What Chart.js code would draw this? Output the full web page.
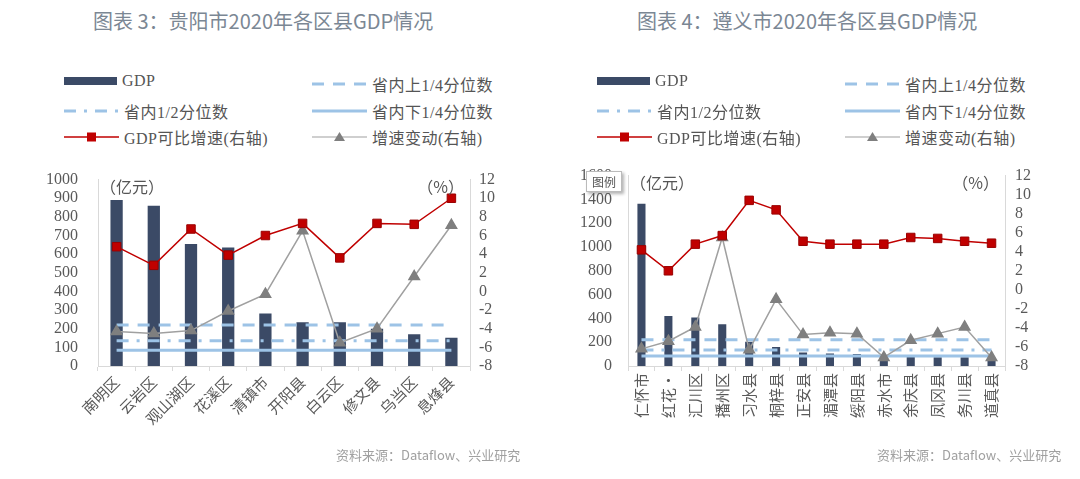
<!DOCTYPE html>
<html>
<head>
<meta charset="utf-8">
<script src="https://cdn.jsdelivr.net/npm/chart.js@4.4.1/dist/chart.umd.min.js"></script>
<style>
  body { margin: 0; background: #fff; width: 1080px; height: 479px; position: relative; overflow: hidden;
         font-family: "Liberation Serif", "Noto Sans CJK SC", serif; }
  .title { position: absolute; top: 6px; font-family: "Noto Sans CJK SC", sans-serif; font-size: 20px;
           color: #7b8794; white-space: nowrap; }
  .src { position: absolute; top: 445px; font-family: "Noto Sans CJK SC", sans-serif; font-size: 13px;
         color: #a0a0a0; white-space: nowrap; }
  canvas { position: absolute; top: 150px; }
  .leg { position: absolute; display: flex; align-items: center; font-size: 16px; color: #555;
         white-space: nowrap; letter-spacing: 0.5px; }
  .leg svg { margin-right: 5px; }
  .tip { position: absolute; left: 586px; top: 171px; width: 34px; height: 19px; background: #fff;
         border: 1px solid #bbb; box-shadow: 2px 2px 3px rgba(0,0,0,0.3); font-family: "Noto Sans CJK SC", sans-serif;
         font-size: 12px; color: #555; text-align: center; line-height: 19px; }
</style>
</head>
<body>
<div class="title" style="left:93px">图表 3：贵阳市2020年各区县GDP情况</div>
<div class="title" style="left:637px">图表 4：遵义市2020年各区县GDP情况</div>
<canvas id="c1" width="540" height="300" style="left:0"></canvas>
<canvas id="c2" width="540" height="300" style="left:540px"></canvas>
<div class="tip">图例</div>
<div class="src" style="left:336px">资料来源：Dataflow、兴业研究</div>
<div class="src" style="left:877px">资料来源：Dataflow、兴业研究</div>
<script>
// 贵阳市
const gyCities = ['南明区', '云岩区', '观山湖区', '花溪区', '清镇市', '开阳县', '白云区', '修文县', '乌当区', '息烽县'];
const gyGdp = [890, 860, 655, 636, 281, 235, 235, 200, 170, 151];
const gyGrowth = [4.8, 2.8, 6.7, 3.9, 6.0, 7.3, 3.6, 7.3, 7.2, 10.0];
const gyChange = [-4.3, -4.5, -4.2, -2.1, -0.3, 6.5, -5.5, -4.0, 1.6, 7.1];
const gyUpperQ = [220, 220, 220, 220, 220, 220, 220, 220, 220, 220];
const gyMedian = [135, 135, 135, 135, 135, 135, 135, 135, 135, 135];
const gyLowerQ = [84, 84, 84, 84, 84, 84, 84, 84, 84, 84];

// 遵义市
const zyCities = ['仁怀市', '红花·', '汇川区', '播州区', '习水县', '桐梓县', '正安县', '湄潭县', '绥阳县', '赤水市', '余庆县', '凤冈县', '务川县', '道真县'];
const zyGdp = [1364, 421, 407, 350, 204, 160, 114, 106, 100, 73, 80, 73, 73, 52];
const zyGrowth = [4.2, 2.0, 4.8, 5.7, 9.4, 8.4, 5.1, 4.8, 4.8, 4.8, 5.5, 5.4, 5.1, 4.9];
const zyChange = [-6.2, -5.4, -3.9, 5.5, -6.3, -1.0, -4.7, -4.5, -4.6, -7.1, -5.3, -4.6, -3.9, -7.1];
const zyUpperQ = [220, 220, 220, 220, 220, 220, 220, 220, 220, 220, 220, 220, 220, 220];
const zyMedian = [135, 135, 135, 135, 135, 135, 135, 135, 135, 135, 135, 135, 135, 135];
const zyLowerQ = [84, 84, 84, 84, 84, 84, 84, 84, 84, 84, 84, 84, 84, 84];

const legendNames = ['GDP', '省内上1/4分位数', '省内1/2分位数', '省内下1/4分位数', 'GDP可比增速(右轴)', '增速变动(右轴)'];

const NAVY = '#3b4a66', QBLUE = '#9dc3e6', RED = '#c00000', GREY = '#a0a0a0', TRI = '#7f7f7f';
const tickFont = { family: '"Liberation Serif", serif', size: 16 };

// legend symbols as small svgs
const symbols = [
  '<svg width="53" height="10"><rect x="0" y="1" width="53" height="8" fill="' + NAVY + '"/></svg>',
  '<svg width="55" height="10"><line x1="0" y1="5" x2="55" y2="5" stroke="' + QBLUE + '" stroke-width="3" stroke-dasharray="12 9"/></svg>',
  '<svg width="55" height="10"><line x1="0" y1="5" x2="55" y2="5" stroke="' + QBLUE + '" stroke-width="3" stroke-dasharray="12 8 3 8"/></svg>',
  '<svg width="55" height="10"><line x1="0" y1="5" x2="55" y2="5" stroke="' + QBLUE + '" stroke-width="3"/></svg>',
  '<svg width="55" height="12"><line x1="0" y1="6" x2="55" y2="6" stroke="' + RED + '" stroke-width="1.5"/><rect x="23" y="1.5" width="9" height="9" fill="' + RED + '"/></svg>',
  '<svg width="55" height="12"><line x1="0" y1="6" x2="55" y2="6" stroke="' + GREY + '" stroke-width="1.2"/><polygon points="27.5,1 33,10 22,10" fill="' + TRI + '"/></svg>'
];

function addLegend(x1, x2) {
  const rows = [72, 99, 125];
  const pos = [[x1, rows[0]], [x2, rows[0]], [x1, rows[1]], [x2, rows[1]], [x1, rows[2]], [x2, rows[2]]];
  legendNames.forEach((name, i) => {
    const d = document.createElement('div');
    d.className = 'leg';
    d.style.left = pos[i][0] + 'px';
    d.style.top = pos[i][1] + 'px';
    d.innerHTML = symbols[i] + '<span>' + name + '</span>';
    document.body.appendChild(d);
  });
}
addLegend(64, 312);
addLegend(597, 845);

// unit labels inside plot area
const unitLabels = {
  id: 'unitLabels',
  afterDraw(chart) {
    const { ctx, chartArea } = chart;
    ctx.save();
    ctx.font = '16px "Noto Sans CJK SC", sans-serif';
    ctx.fillStyle = '#555';
    ctx.textBaseline = 'top';
    ctx.textAlign = 'left';
    ctx.fillText('（亿元）', chartArea.left + 2, chartArea.top - 1);
    ctx.textAlign = 'right';
    ctx.fillText('（%）', chartArea.right - 6, chartArea.top - 1);
    ctx.restore();
  }
};

function makeChart(id, labels, gdp, growth, change, upper, median, lower, opt) {
  const ctx = document.getElementById(id).getContext('2d');
  const qLine = (data, dash) => ({
    type: 'line', data: data, yAxisID: 'y', borderColor: QBLUE, borderWidth: 3,
    borderDash: dash, pointRadius: 0, order: 5
  });
  return new Chart(ctx, {
    data: {
      labels: labels,
      datasets: [
        { type: 'bar', label: 'GDP', data: gdp, yAxisID: 'y', backgroundColor: NAVY,
          barPercentage: opt.bar, categoryPercentage: 1, order: 10 },
        qLine(upper, [12, 9]),
        qLine(median, [12, 8, 3, 8]),
        qLine(lower, []),
        { type: 'line', label: '增速变动(右轴)', data: change, yAxisID: 'y1', borderColor: GREY, borderWidth: 1.5,
          pointStyle: 'triangle', pointRadius: 6, pointBackgroundColor: TRI, pointBorderColor: TRI, order: 2 },
        { type: 'line', label: 'GDP可比增速(右轴)', data: growth, yAxisID: 'y1', borderColor: RED, borderWidth: 1.5,
          pointStyle: 'rect', pointRadius: 6, pointBackgroundColor: RED, pointBorderColor: '#9a0000',
          pointBorderWidth: 1, order: 1 }
      ]
    },
    options: {
      responsive: false,
      animation: false,
      layout: { padding: { top: 19, left: 0, right: 0, bottom: 0 } },
      plugins: { legend: { display: false }, tooltip: { enabled: false } },
      scales: {
        x: {
          offset: true,
          grid: { display: true, drawOnChartArea: false, offset: true, color: '#d9d9d9', tickLength: 5 },
          border: { color: '#d9d9d9' },
          ticks: { font: { family: '"Noto Sans CJK SC", sans-serif', size: 15 }, color: '#595959',
                   minRotation: opt.rot, maxRotation: opt.rot, autoSkip: false, padding: 2 },
          afterFit: s => { s.height = 84; }
        },
        y: {
          position: 'left', min: 0, max: opt.ymax,
          ticks: { stepSize: opt.step, autoSkip: false, font: tickFont, color: '#595959', padding: opt.lpad,
                   callback: v => String(v) },
          grid: { display: false, drawTicks: false },
          border: { color: '#d9d9d9' },
          afterFit: s => { s.width = opt.left; }
        },
        y1: {
          position: 'right', min: -8, max: 12,
          ticks: { stepSize: 2, autoSkip: false, font: tickFont, color: '#595959', padding: opt.rpad,
                   callback: v => String(v) },
          grid: { display: false, drawTicks: false },
          border: { color: '#d9d9d9' },
          afterFit: s => { s.width = opt.right; }
        }
      }
    },
    plugins: [unitLabels]
  });
}

makeChart('c1', gyCities, gyGdp, gyGrowth, gyChange, gyUpperQ, gyMedian, gyLowerQ,
  { ymax: 1000, step: 100, left: 98, right: 70, lpad: 20, rpad: 9, bar: 0.33, rot: 45 });
makeChart('c2', zyCities, zyGdp, zyGrowth, zyChange, zyUpperQ, zyMedian, zyLowerQ,
  { ymax: 1600, step: 200, left: 88, right: 75, lpad: 16, rpad: 10, bar: 0.3, rot: 90 });
</script>
</body>
</html>
